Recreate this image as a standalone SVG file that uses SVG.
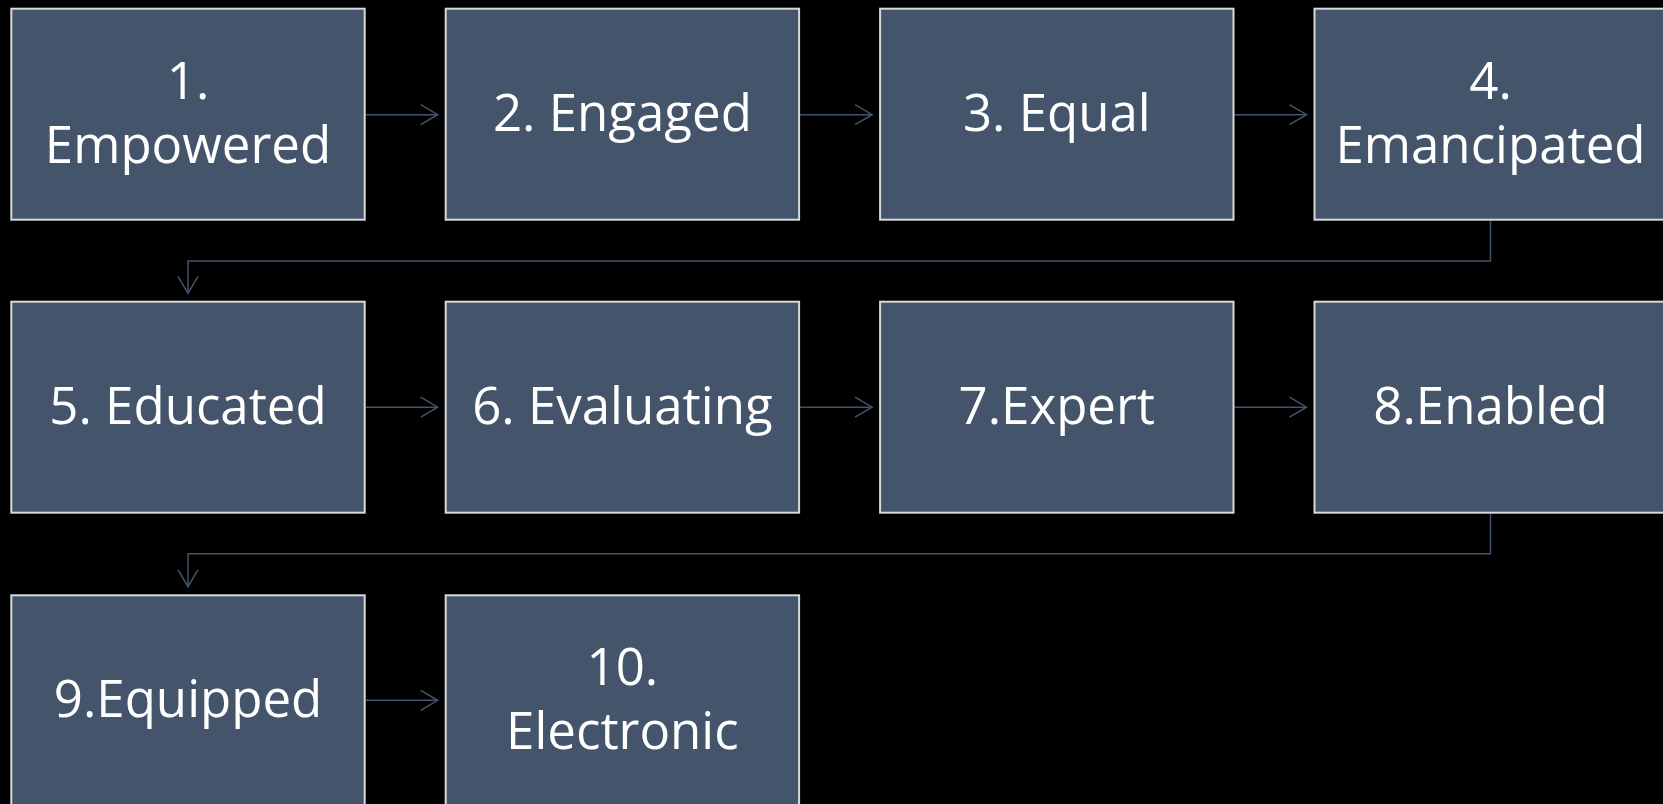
<svg xmlns="http://www.w3.org/2000/svg" width="1663" height="804" viewBox="0 0 1663 804">
<defs>
<style>
.box{fill:#44546A;stroke:#D9D9D9;stroke-width:2}
.lbl{fill:#FFFFFF;font-family:"Open Sans","Noto Sans",sans-serif;font-size:51px;text-anchor:middle}
.con{fill:none;stroke:#44546A;stroke-width:1.5}
</style>
<marker id="ah" markerUnits="userSpaceOnUse" markerWidth="40" markerHeight="40" viewBox="-20 -20 40 40" refX="0" refY="0" orient="auto" overflow="visible">
<path d="M-17,-10 L0,0 L-17,10" fill="none" stroke="#44546A" stroke-width="1.5"/>
</marker>
</defs>
<rect width="1663" height="804" fill="#000000"/>
<g id="connectors">
<path class="con" d="M365.7,114.7 H437.7" marker-end="url(#ah)"/>
<path class="con" d="M800.1,114.7 H872.1" marker-end="url(#ah)"/>
<path class="con" d="M1234.5,114.7 H1306.5" marker-end="url(#ah)"/>
<path class="con" d="M1490.5,220.7 V261 H188 V293.3" marker-end="url(#ah)"/>
<path class="con" d="M365.7,407.2 H437.7" marker-end="url(#ah)"/>
<path class="con" d="M800.1,407.2 H872.1" marker-end="url(#ah)"/>
<path class="con" d="M1234.5,407.2 H1306.5" marker-end="url(#ah)"/>
<path class="con" d="M1490.5,513.7 V553.7 H188 V586.7" marker-end="url(#ah)"/>
<path class="con" d="M365.7,700.3 H437.7" marker-end="url(#ah)"/>
</g>
<g id="n1"><rect class="box" x="11.3" y="8.7" width="353.4" height="211"/><text class="lbl" x="188" y="99">1.</text><text class="lbl" x="188" y="163">Empowered</text></g>
<g id="n2"><rect class="box" x="445.7" y="8.7" width="353.4" height="211"/><text class="lbl" x="622.4" y="131">2. Engaged</text></g>
<g id="n3"><rect class="box" x="880.1" y="8.7" width="353.4" height="211"/><text class="lbl" x="1056.8" y="131">3. Equal</text></g>
<g id="n4"><rect class="box" x="1314.5" y="8.7" width="353.4" height="211"/><text class="lbl" x="1490.5" y="99">4.</text><text class="lbl" x="1490.5" y="163">Emancipated</text></g>
<g id="n5"><rect class="box" x="11.3" y="301.7" width="353.4" height="211"/><text class="lbl" x="188" y="424">5. Educated</text></g>
<g id="n6"><rect class="box" x="445.7" y="301.7" width="353.4" height="211"/><text class="lbl" x="622.4" y="424">6. Evaluating</text></g>
<g id="n7"><rect class="box" x="880.1" y="301.7" width="353.4" height="211"/><text class="lbl" x="1056.8" y="424">7.Expert</text></g>
<g id="n8"><rect class="box" x="1314.5" y="301.7" width="353.4" height="211"/><text class="lbl" x="1490.5" y="424">8.Enabled</text></g>
<g id="n9"><rect class="box" x="11.3" y="595.3" width="353.4" height="211"/><text class="lbl" x="188" y="717">9.Equipped</text></g>
<g id="n10"><rect class="box" x="445.7" y="595.3" width="353.4" height="211"/><text class="lbl" x="622.4" y="685">10.</text><text class="lbl" x="622.4" y="749">Electronic</text></g>
</svg>
